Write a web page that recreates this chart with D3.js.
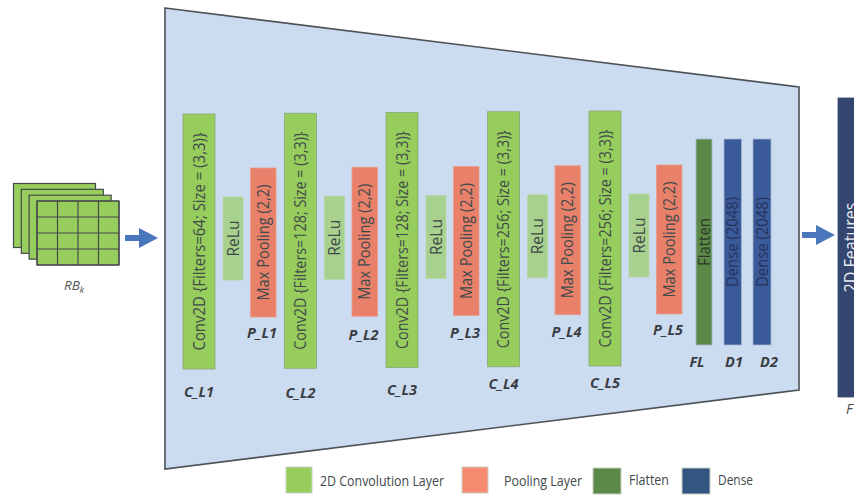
<!DOCTYPE html>
<html>
<head>
<meta charset="utf-8">
<script src="https://cdn.jsdelivr.net/npm/d3@7"></script>
<style>
html, body { margin: 0; padding: 0; background: #fff; }
svg { display: block; }
text { font-family: "Open Sans", sans-serif; fill: #3f4a4a; }
.tag { font-weight: bold; font-style: italic; font-size: 14.5px; fill: #3a3d44; }
</style>
</head>
<body>
<div id="chart"></div>
<script>
// the diagram content
var blocks = [1, 2, 3, 4, 5];
var convLabels = [
    "Conv2D {Filters=64; Size = (3,3)}",
    "Conv2D {Filters=128; Size = (3,3)}",
    "Conv2D {Filters=128; Size = (3,3)}",
    "Conv2D {Filters=256; Size = (3,3)}",
    "Conv2D {Filters=256; Size = (3,3)}"
];
var convTags = ["C_L1", "C_L2", "C_L3", "C_L4", "C_L5"];
var convTagRows = [392, 393, 390, 384, 383];
var poolTags = ["P_L1", "P_L2", "P_L3", "P_L4", "P_L5"];
var poolTagRows = [333, 335, 333, 332, 330];
var relu = "ReLu";
var pool = "Max Pooling (2,2)";
var tailLabels = ["Flatten", "Dense (2048)", "Dense (2048)"];
var tailTags = ["FL", "D1", "D2"];
var legendLabels = ["2D Convolution Layer", "Pooling Layer", "Flatten", "Dense"];
var legendColors = ["#96cd5c", "#f68b6f", "#5b8a48", "#33557f"];
var gridCols = [0, 1, 2, 3, 4];
var gridRows = [0, 1, 2, 3, 4];
var stackLayers = [0, 1, 2, 3];

var width = 854, height = 495;

var svg = d3.select("#chart").append("svg")
    .attr("width", width)
    .attr("height", height);

// big funnel behind the layers
svg.append("path")
    .attr("d", "M165,8 L799,87 L799,390 L165,469 Z")
    .attr("fill", "#cbdcf0")
    .attr("stroke", "#4d5258")
    .attr("stroke-width", 1.6);

// scales for the repeating conv/relu/pool unit, it drifts up a little to the right
var x = d3.scaleLinear().domain([1, 5]).range([0, 406]);
var drift = d3.scaleLinear().domain([1, 5]).range([0, -3]);

function vbox(g, cfg) {
    g.append("rect")
        .attr("x", cfg.x).attr("y", cfg.y)
        .attr("width", cfg.w).attr("height", cfg.h)
        .attr("fill", cfg.fill)
        .attr("stroke", cfg.stroke)
        .attr("stroke-width", 0.8);
    g.append("text")
        .attr("transform", "translate(" + (cfg.cx || (cfg.x + cfg.w / 2)) + "," + (cfg.y + cfg.h / 2) + ") rotate(-90)")
        .attr("text-anchor", "middle")
        .attr("dy", "0.36em")
        .style("font-size", cfg.size + "px")
        .style("fill", cfg.color || "#3f4a4a")
        .attr("textLength", cfg.len)
        .attr("lengthAdjust", "spacingAndGlyphs")
        .text(cfg.label);
}

blocks.forEach(function (b, i) {
    var g = svg.append("g");
    var dx = x(b), dy = drift(b);
    vbox(g, { x: 183 + dx, y: 114 + dy, w: 32, h: 255, fill: "#96cd5c", stroke: "#86a878", size: 15.5, len: 218, label: convLabels[i] });
    vbox(g, { x: 223 + dx, y: 197 + dy, w: 20, h: 83, fill: "#a9d18e", stroke: "#b4d6a0", size: 15.5, len: 36, label: relu });
    vbox(g, { x: 250.5 + dx, y: 168 + dy, w: 25.5, h: 149, fill: "#e8806a", stroke: "#eb9c8c", size: 15.5, len: 116, label: pool });
    g.append("text").attr("class", "tag")
        .attr("x", 199 + dx).attr("y", convTagRows[i] + 5)
        .attr("text-anchor", "middle").text(convTags[i]);
    g.append("text").attr("class", "tag")
        .attr("x", 262 + dx).attr("y", poolTagRows[i] + 5)
        .attr("text-anchor", "middle").text(poolTags[i]);
});

// flatten and the two dense layers
var tailX = [696, 724, 753];
var tailW = [16, 17.5, 18];
var tailFill = ["#5b8a48", "#3b5a9a", "#3b5a9a"];
var tailTagX = [697, 734, 769];
var tailColor = ["#2c3826", "#25335a", "#25335a"];
tailLabels.forEach(function (d, i) {
    var g = svg.append("g");
    vbox(g, { x: tailX[i], y: 139, w: tailW[i], h: 206, fill: tailFill[i], stroke: "#a3b7cf", size: 15.5, len: i == 0 ? 48 : 90, label: d, color: tailColor[i] });
    g.append("text").attr("class", "tag")
        .attr("x", tailTagX[i]).attr("y", 367)
        .attr("text-anchor", "middle").text(tailTags[i]);
});

// 2D features block, cut by the right edge like the source
vbox(svg.append("g"), { x: 838, y: 98, w: 40, h: 299, cx: 850.5, fill: "#34466f", stroke: "#34466f", size: 19, len: 90, label: "2D Features", color: "#e6eaf2" });
svg.append("text")
    .attr("x", 846).attr("y", 414)
    .style("font-size", "14px").style("font-style", "italic")
    .text("F");

// input feature maps, the front one has the grid
var stackX = d3.scaleLinear().domain([0, 3]).range([13.5, 37]);
var stackY = d3.scaleLinear().domain([0, 3]).range([183.5, 201]);
stackLayers.forEach(function (d) {
    svg.append("rect")
        .attr("x", stackX(d)).attr("y", stackY(d))
        .attr("width", 82).attr("height", 64)
        .attr("fill", "#96cd5c")
        .attr("stroke", "#45494c")
        .attr("stroke-width", 1.2);
});
var gx = d3.scaleLinear().domain([0, 4]).range([37, 119]);
var gy = d3.scaleLinear().domain([0, 4]).range([201, 265]);
svg.append("g").selectAll("line").data(gridCols).enter().append("line")
    .attr("x1", function (d) { return gx(d); }).attr("x2", function (d) { return gx(d); })
    .attr("y1", 201).attr("y2", 265)
    .attr("stroke", "#45494c").attr("stroke-width", 1.2);
svg.append("g").selectAll("line").data(gridRows).enter().append("line")
    .attr("x1", 37).attr("x2", 119)
    .attr("y1", function (d) { return gy(d); }).attr("y2", function (d) { return gy(d); })
    .attr("stroke", "#45494c").attr("stroke-width", 1.2);

var rb = svg.append("text")
    .attr("x", 64).attr("y", 290)
    .style("font-size", "13.5px").style("font-style", "italic").style("fill", "#555");
rb.append("tspan").text("RB");
rb.append("tspan").attr("dy", 3).style("font-size", "8.5px").text("k");

// arrows
function arrow(x0, cy) {
    svg.append("path")
        .attr("d", "M" + x0 + "," + (cy - 3) + " h14 v-7 l19,10 l-19,10 v-7 h-14 Z")
        .attr("fill", "#4a76bb");
}
arrow(125, 238);
arrow(802, 235);

// legend
var legX = [286, 462, 593, 682];
var legW = [26, 26, 28, 28];
var legY = [467, 467, 468, 468];
var legTextX = [320, 504, 629, 718];
var legTextY = [481, 481, 480, 480];
var legLen = [124, 78, 40, 35];
legendLabels.forEach(function (d, i) {
    svg.append("rect")
        .attr("x", legX[i]).attr("y", legY[i])
        .attr("width", legW[i]).attr("height", 26)
        .attr("fill", legendColors[i])
        .attr("stroke", "#c9cfc6");
    svg.append("text")
        .attr("x", legTextX[i]).attr("y", legTextY[i])
        .attr("dy", "0.36em")
        .style("font-size", "14px")
        .attr("textLength", legLen[i])
        .attr("lengthAdjust", "spacingAndGlyphs")
        .text(d);
});
</script>
</body>
</html>
